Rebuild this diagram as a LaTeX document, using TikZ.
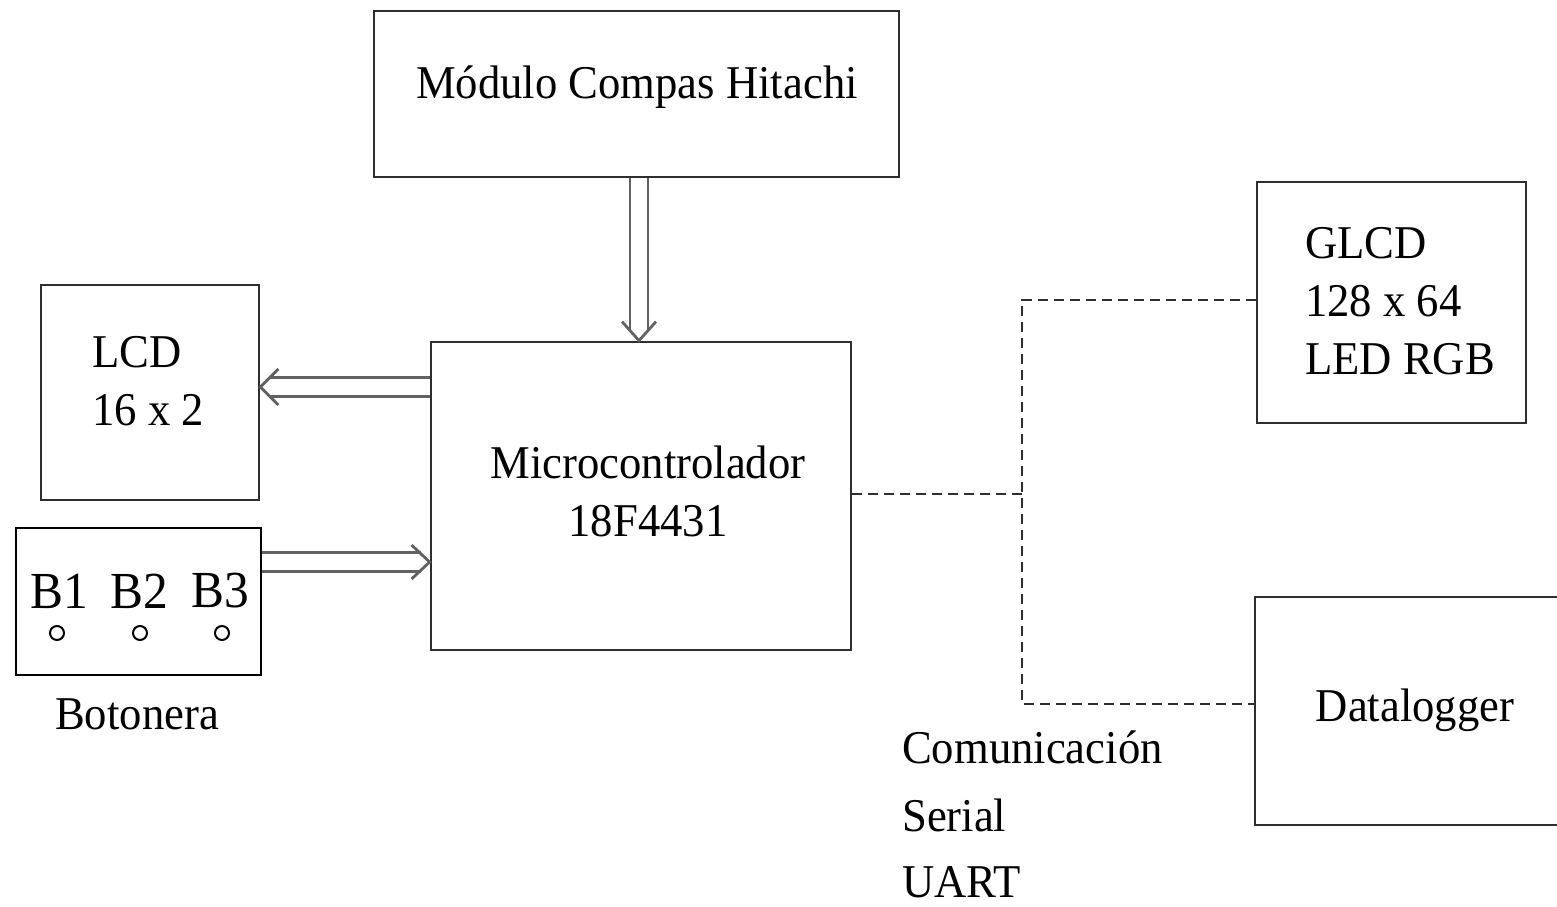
\documentclass[tikz,border=0pt]{standalone}
\usepackage{fontspec}
\setmainfont[FakeStretch=0.95]{Liberation Serif}
\usetikzlibrary{calc}
\begin{document}
\begin{tikzpicture}[x=1pt,y=-1pt,
  blk/.style={draw=black!82,line width=2.8pt,rectangle,inner sep=0pt,anchor=center},
  lbl/.style={inner sep=0pt,font=\fontsize{47}{58}\selectfont},
  big/.style={inner sep=0pt,font=\fontsize{52}{60}\selectfont},
  dline/.style={draw=black!62,line width=2.8pt,line join=miter},
  bus/.style={draw=black!82,line width=2.8pt,dash pattern=on 10pt off 6pt},
  btn/.style={draw=black,line width=2pt,circle,inner sep=0pt,minimum size=14pt}]
\useasboundingbox (0,0) rectangle (1557,906);
\fill[white] (0,0) rectangle (1557,906);

% blocks
\node[blk,minimum width=525pt,minimum height=166pt] (module) at (636.5,94) {};
\node[blk,minimum width=420pt,minimum height=308pt] (micro) at (641,496) {};
\node[blk,minimum width=218pt,minimum height=215pt] (lcd) at (150,392.5) {};
\node[blk,draw=black,minimum width=245pt,minimum height=147pt] (bot) at (138.5,601.5) {};
\node[blk,minimum width=269pt,minimum height=241pt] (glcd) at (1391.5,302.5) {};
\node[blk,minimum width=325pt,minimum height=228pt] (dlog) at (1417.5,711) {};

% texts
\node[lbl] (tmod) at (637,87) {Módulo Compas Hitachi};
\node[lbl,align=center] (tmicro) at (648,491) {Microcontrolador\\[0pt]18F4431};
\node[lbl,align=left,anchor=west] (tlcd) at (92,381) {LCD\\16 x 2};
\node[lbl,align=left,anchor=west] (tglcd) at (1305,301) {GLCD\\128 x 64\\LED RGB};
\node[lbl] (tdlog) at (1415,710) {Datalogger};
\node[big] (tb1) at (59,591) {B1};
\node[big] (tb2) at (139,591) {B2};
\node[big] (tb3) at (220,591) {B3};
\node[btn] (c1) at (57,633) {};
\node[btn] (c2) at (140,633) {};
\node[btn] (c3) at (222,633) {};
\node[lbl] (tbot) at (137,714) {Botonera};
\node[lbl,anchor=base west] (tcom1) at (902,763) {Comunicación};
\node[lbl,anchor=base west] (tcom2) at (902,831) {Serial};
\node[lbl,anchor=base west] (tcom3) at (902,897) {UART};

% parallel buses with open arrow heads
% compass module -> microcontroller
\coordinate (d0) at (module.south -| 639,0);
\coordinate (d1) at (micro.north -| 639,0);
\draw[dline] ([xshift=-9pt]d0) -- ([xshift=-9pt,yshift=9pt]d1);
\draw[dline] ([xshift=9pt]d0) -- ([xshift=9pt,yshift=9pt]d1);
\draw[dline] ([xshift=-17pt,yshift=19pt]d1) -- (d1) -- ([xshift=17pt,yshift=19pt]d1);
% microcontroller -> LCD
\coordinate (l0) at (micro.west |- 0,387);
\coordinate (l1) at (lcd.east |- 0,387);
\draw[dline] ([yshift=9.5pt]l0) -- ([xshift=9pt,yshift=9.5pt]l1);
\draw[dline] ([yshift=-9.5pt]l0) -- ([xshift=9pt,yshift=-9.5pt]l1);
\draw[dline] ([xshift=18pt,yshift=18pt]l1) -- (l1) -- ([xshift=18pt,yshift=-18pt]l1);
% keypad -> microcontroller
\coordinate (r0) at (bot.east |- 0,562);
\coordinate (r1) at (micro.west |- 0,562);
\draw[dline] ([yshift=9.5pt]r0) -- ([xshift=-9pt,yshift=9.5pt]r1);
\draw[dline] ([yshift=-9.5pt]r0) -- ([xshift=-9pt,yshift=-9.5pt]r1);
\draw[dline] ([xshift=-18pt,yshift=17pt]r1) -- (r1) -- ([xshift=-18pt,yshift=-17pt]r1);

% serial link
\coordinate (jn) at (1022,494);
\coordinate (jt) at (1022,300);
\coordinate (jb) at (1022,704);
\draw[bus] (micro.east |- jn) -- (jn);
\draw[bus] (glcd.west |- jt) -- (jt) -- (jb) -- (dlog.west |- jb);
\end{tikzpicture}
\end{document}
